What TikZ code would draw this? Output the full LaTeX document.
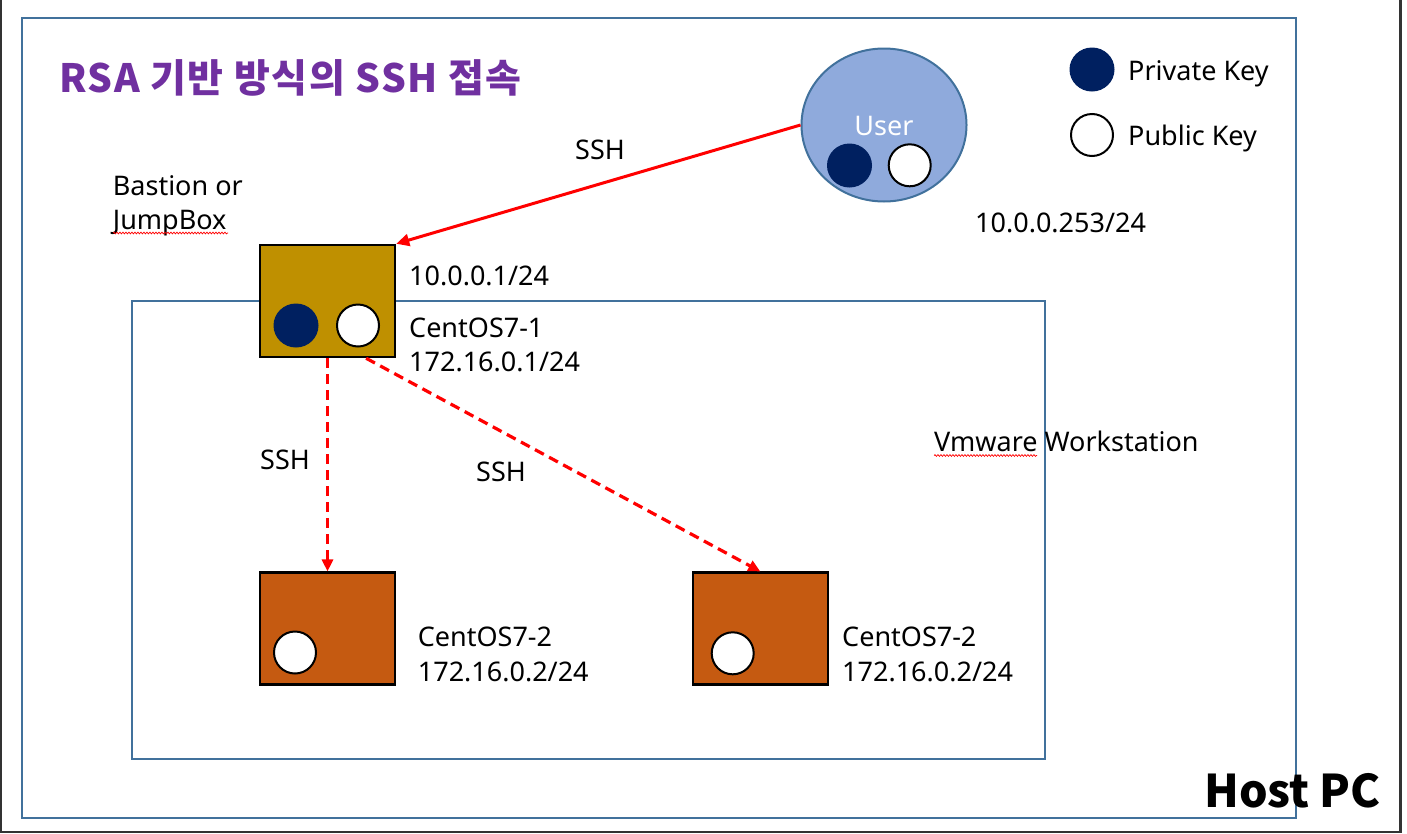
\documentclass[tikz,border=0pt]{standalone}
\usepackage{fontspec}
\setmainfont{Noto Sans}
\newfontfamily\krfont{Noto Sans CJK KR}
\newfontfamily\krtitle{Noto Sans CJK KR}[LetterSpace=4]
\usetikzlibrary{arrows.meta,shapes.geometric,decorations.pathmorphing}
\definecolor{frameblue}{HTML}{41719C}
\definecolor{darkframe}{HTML}{333333}
\definecolor{bastionfill}{HTML}{BF9000}
\definecolor{vmfill}{HTML}{C55A11}
\definecolor{userfill}{HTML}{8FAADC}
\definecolor{keydark}{HTML}{002060}
\definecolor{titlepurple}{HTML}{7030A0}
\definecolor{sshred}{HTML}{FF0000}
\tikzset{
  blueframe/.style={draw=frameblue, line width=2pt},
  srvbox/.style={draw=black, line width=2.5pt, minimum width=135pt, minimum height=112pt, inner sep=0pt},
  privkey/.style={ellipse, fill=keydark, minimum width=45pt, minimum height=44pt, inner sep=0pt},
  pubkey/.style={ellipse, draw=black, fill=white, line width=2pt, minimum width=42pt, minimum height=42pt, inner sep=0pt},
  usernode/.style={ellipse, draw=frameblue, fill=userfill, line width=2pt, minimum width=165pt, minimum height=153pt, inner sep=0pt},
  lbl/.style={inner sep=0pt, anchor=base west, font=\fontsize{27}{33}\selectfont},
  sshsolid/.style={draw=sshred, line width=3pt, -{Triangle[length=13pt,width=12pt]}},
  sshdash/.style={draw=sshred, line width=3.2pt, dash pattern=on 10pt off 6pt, -{Triangle[length=12pt,width=11pt]}},
  spell/.style={draw=sshred, line width=0.7pt, decorate, decoration={snake, amplitude=0.9pt, segment length=3pt}}
}
\begin{document}
\begin{tikzpicture}[x=1pt,y=-1pt]
\useasboundingbox (0,0) rectangle (1407,833);
\fill[white] (0,0) rectangle (1407,833);
% screen frame
\draw[darkframe, line width=2.5pt] (1,0) -- (1,832) -- (1400.5,832) -- (1400.5,0);
% Host PC and VMware frames
\draw[blueframe] (22,18) rectangle (1296,818);
\draw[blueframe] (132,301) rectangle (1045,759);

% title
\node[inner sep=0pt, anchor=base west, text=titlepurple, font=\krtitle\bfseries\fontsize{39}{44}\selectfont] (title) at (59,92.7) {RSA 기반 방식의 SSH 접속};

% servers
\node[srvbox, fill=bastionfill] (bastion) at (327.5,301) {};
\node[srvbox, fill=vmfill] (vm1) at (327.5,628.7) {};
\node[srvbox, fill=vmfill] (vm2) at (760.3,628.7) {};

\node[privkey] (bpriv) at (296,325.5) {};
\node[pubkey] (bpub) at (358,325.5) {};
\node[pubkey] (vm1pub) at (295,652.5) {};
\node[pubkey] (vm2pub) at (732.7,653.3) {};

% user
\node[usernode] (user) at (884,125) {};
\node[inner sep=0pt, anchor=base, text=white, font=\fontsize{27}{33}\selectfont] (usertxt) at (884,135) {User};
\node[privkey] (upriv) at (849.5,165.5) {};
\node[pubkey] (upub) at (909.7,165.3) {};

% legend
\node[privkey] (lpriv) at (1092,69.5) {};
\node[pubkey] (lpub) at (1092,135) {};
\node[lbl] (lprivtxt) at (1128,80) {Private Key};
\node[lbl] (lpubtxt) at (1128,145) {Public Key};

% labels
\node[lbl] (ssh1) at (575,159) {SSH};
\node[lbl] (bast1) at (112.7,195) {Bastion or};
\node[lbl] (bast2) at (112.7,229) {JumpBox};
\node[lbl] (uip) at (975,232) {10.0.0.253/24};
\node[lbl] (bip) at (409,285) {10.0.0.1/24};
\node[lbl] (c1a) at (409,337) {CentOS7-1};
\node[lbl] (c1b) at (409,371) {172.16.0.1/24};
\node[lbl] (ssh2) at (260,469) {SSH};
\node[lbl] (ssh3) at (476,481) {SSH};
\node[lbl] (vmw) at (934,451.7) {Vmware Workstation};
\node[lbl] (c2a) at (417.7,646) {CentOS7-2};
\node[lbl] (c2b) at (417.7,681) {172.16.0.2/24};
\node[lbl] (c3a) at (842,646) {CentOS7-2};
\node[lbl] (c3b) at (842,681.7) {172.16.0.2/24};
\node[inner sep=0pt, anchor=base east, font=\krfont\bfseries\fontsize{45}{50}\selectfont] (host) at (1381,807.7) {Host PC};

% spell-check marks
\coordinate (sp1a) at (113,233);
\coordinate (sp1b) at (228,233);
\coordinate (sp2a) at (934,455.5);
\coordinate (sp2b) at (1037,455.5);
\draw[spell] (sp1a) -- (sp1b);
\draw[spell] (sp2a) -- (sp2b);

% connectors
\draw[sshsolid] (user.west) -- (bastion.north east);
\draw[sshdash] (bastion.south) -- (vm1.north);
\draw[sshdash] (bastion.-56) -- (vm2.north);
\end{tikzpicture}
\end{document}
